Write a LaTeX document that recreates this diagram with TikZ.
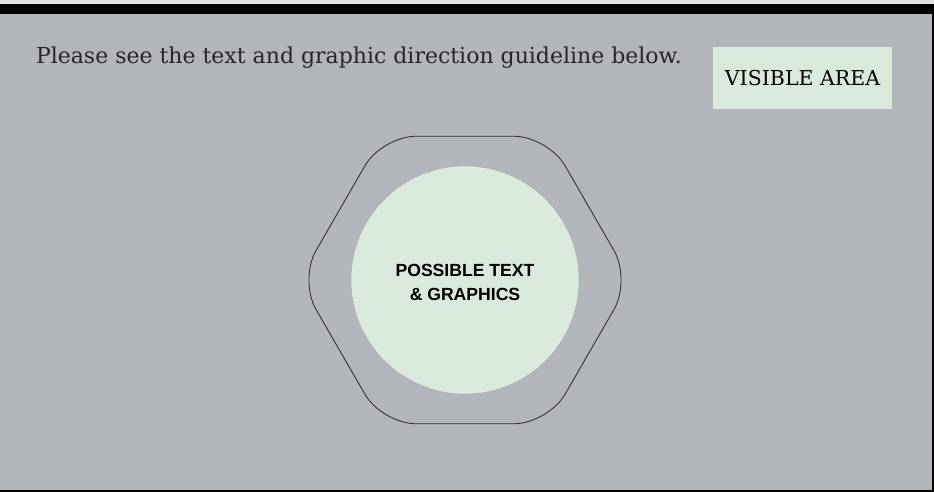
\documentclass[tikz,border=0pt]{standalone}
\usepackage{fontspec}
\setmainfont{DejaVu Serif}
\setsansfont{Liberation Sans}
\usetikzlibrary{shapes,positioning}

\definecolor{panelgray}{HTML}{B2B5BA}
\definecolor{stripgray}{HTML}{E1E1E1}
\definecolor{mintgreen}{HTML}{D9EADD}
\definecolor{hexline}{HTML}{333333}

\begin{document}
\begin{tikzpicture}[
    x=1pt, y=-1pt,
    every node/.style={inner sep=0pt, outer sep=0pt},
    notetext/.style={anchor=base west, font=\fontsize{22}{26}\selectfont, text=black!85},
    areabox/.style={fill=mintgreen, minimum width=179pt, minimum height=62pt,
      font=\fontsize{20.5}{24}\selectfont},
    hexbox/.style={regular polygon, regular polygon sides=6, minimum size=332pt,
      draw=hexline, line width=0.9pt, rounded corners=34pt},
    spot/.style={circle, minimum size=228pt, fill=mintgreen, draw=black!45,
      densely dotted, line width=0.5pt},
    spottext/.style={align=center, font=\sffamily\bfseries\fontsize{17.6}{24}\selectfont}
  ]
  \useasboundingbox (0,0) rectangle (934,492);

  % Frame
  \fill[stripgray] (0,0) rectangle (934,4);
  \fill[black] (0,4) rectangle (934,14);
  \fill[panelgray] (0,14) rectangle (932,490);
  \fill[black] (932,14) rectangle (934,492);
  \fill[black] (0,490) rectangle (934,492);

  % Nodes
  \node[notetext] (note) at (36,64) {Please see the text and graphic direction guideline below.};
  \node[areabox] (visible) at (802.5,78) {VISIBLE AREA};
  \node[hexbox] (hex) at (465,280) {};
  \node[spot] (area) at (465,280) {};
  \node[spottext] (areatext) at (465,282) {POSSIBLE TEXT\\\& GRAPHICS};

\end{tikzpicture}
\end{document}
